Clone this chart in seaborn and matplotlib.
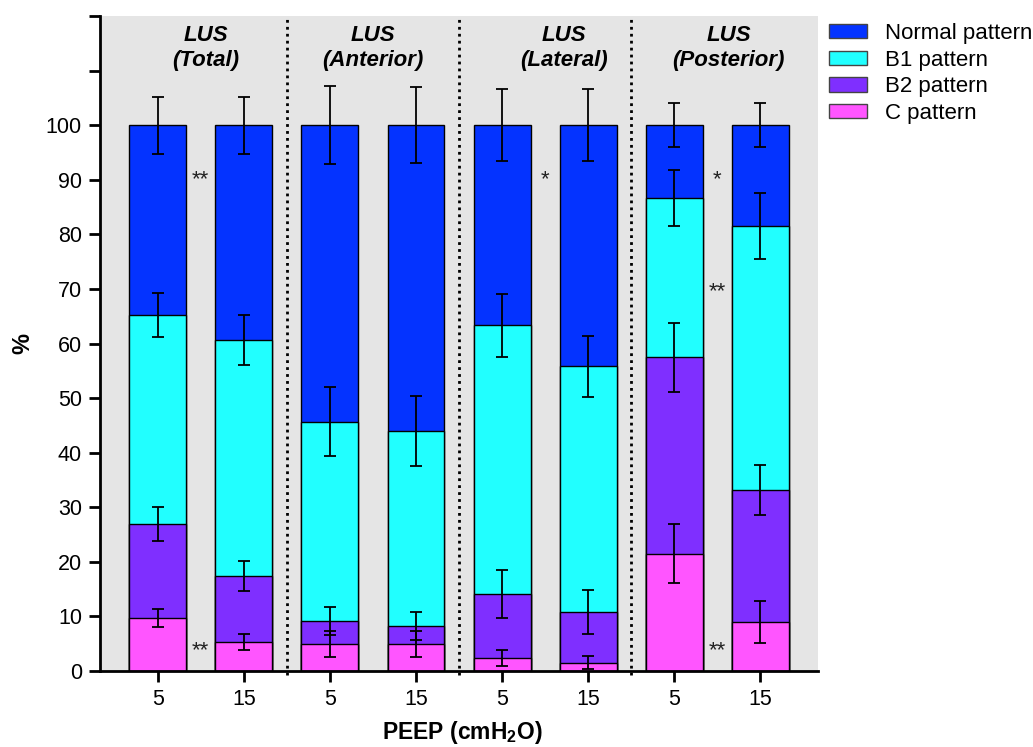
import numpy as np
import pandas as pd
import matplotlib
matplotlib.use("Agg")
import matplotlib.pyplot as plt
from matplotlib.patches import Patch
import seaborn as sns

# data (percent of segments per pattern)
groups = ["Total", "Anterior", "Lateral", "Posterior"]
peep = ["5", "15"]
c_pct = [9.7, 5.3, 5.0, 5.0, 2.4, 1.5, 21.5, 9.0]
b2_pct = [17.3, 12.1, 4.2, 3.3, 11.7, 9.3, 36.0, 24.2]
b1_pct = [38.2, 43.2, 36.5, 35.7, 49.2, 45.0, 29.2, 48.3]
c_err = [1.6, 1.5, 2.4, 2.4, 1.4, 1.2, 5.4, 3.8]
b2_err = [3.1, 2.7, 2.6, 2.6, 4.4, 4.0, 6.3, 4.6]
b1_err = [4.0, 4.6, 6.3, 6.4, 5.7, 5.6, 5.1, 6.0]
normal_err = [5.2, 5.2, 7.2, 7.0, 6.6, 6.6, 4.0, 4.0]

# significance marks: (bar gap index, y value, text)
sig_marks = [(0.5, 90, "**"), (0.5, 3.7, "**"), (4.5, 90, "*"),
             (6.5, 90, "*"), (6.5, 69.5, "**"), (6.5, 3.7, "**")]

colors = {"Normal pattern": "#0433FF", "B1 pattern": "#21FFFF",
          "B2 pattern": "#7F2FFF", "C pattern": "#FF55FF"}

bars = [f"{g}_{p}" for g in groups for p in peep]
df = pd.DataFrame({"bar": bars, "c": c_pct, "b2": b2_pct, "b1": b1_pct})
df["cum_c"] = df["c"]
df["cum_b2"] = df["cum_c"] + df["b2"]
df["cum_b1"] = df["cum_b2"] + df["b1"]
df["cum_n"] = 100.0

plt.rcParams["font.family"] = ["Liberation Sans", "DejaVu Sans"]
plt.rcParams["mathtext.fontset"] = "custom"
plt.rcParams["mathtext.bf"] = "Liberation Sans:bold"
plt.rcParams["mathtext.rm"] = "Liberation Sans:bold"

fig = plt.figure(figsize=(10.33, 7.47), dpi=100)
ax = fig.add_axes([0.0968, 0.1017, 0.6952, 0.8769])
ax.set_facecolor("#E5E5E5")

layers = [("cum_n", "Normal pattern"), ("cum_b1", "B1 pattern"),
          ("cum_b2", "B2 pattern"), ("cum_c", "C pattern")]
for col, name in layers:
    sns.barplot(data=df, x="bar", y=col, order=bars, color=colors[name],
                saturation=1, width=0.66, edgecolor="black", linewidth=1.0,
                errorbar=None, ax=ax)

pos = np.arange(len(bars))
for col, err in [("cum_n", normal_err), ("cum_b1", b1_err),
                 ("cum_b2", b2_err), ("cum_c", c_err)]:
    ax.errorbar(pos, df[col], yerr=err, fmt="none", ecolor="black",
                elinewidth=1.3, capsize=4.3, capthick=1.3, zorder=5)

for xs in [1.5, 3.5, 5.5]:
    ax.plot([xs, xs], [-0.8, 120], ls=(0, (1, 1.5)), color="black", lw=2,
            clip_on=False, zorder=4)

# group titles sit a little right of the group centre in the original
title_shift = [0.06, 0.0, 0.22, 0.13]
for i, g in enumerate(groups):
    xc = 2 * i + 0.5 + title_shift[i]
    ax.text(xc, 116.4, "LUS", ha="center", va="center",
            fontsize=16, fontweight="bold", fontstyle="italic")
    ax.text(xc, 111.9, f"({g})", ha="center", va="center",
            fontsize=16, fontweight="bold", fontstyle="italic")

for x, y, t in sig_marks:
    ax.text(x, y, t, ha="center", va="center", fontsize=16, color="#222222")

ax.set_xlim(-0.67, 7.67)
ax.set_ylim(0, 120)
ax.set_yticks(np.arange(0, 121, 10))
ax.set_yticklabels([str(v) if v <= 100 else "" for v in range(0, 121, 10)])
ax.set_xticks(pos)
ax.set_xticklabels([p for g in groups for p in peep])
ax.tick_params(axis="both", labelsize=15.5, width=2, length=8,
               direction="out", pad=5)
for s in ["top", "right"]:
    ax.spines[s].set_visible(False)
for s in ["left", "bottom"]:
    ax.spines[s].set_linewidth(2)

ax.set_xlabel(r"PEEP (cmH$_\mathbf{2}$O)", fontsize=16.5, fontweight="bold",
              va="center")
ax.xaxis.set_label_coords(0.504, -0.094)
ax.set_ylabel("%", fontsize=17, fontweight="bold", va="center")
ax.yaxis.set_label_coords(-0.108, 0.5)

handles = [Patch(facecolor=c, edgecolor="#444444", label=n)
           for n, c in colors.items()]
ax.legend(handles=handles, loc="upper left", bbox_to_anchor=(1.0153, 0.989),
          frameon=False, fontsize=16, handlelength=1.7, handleheight=0.6,
          labelspacing=0.25, handletextpad=0.8, borderaxespad=0, borderpad=0)

fig.savefig("out.png", dpi=100)
